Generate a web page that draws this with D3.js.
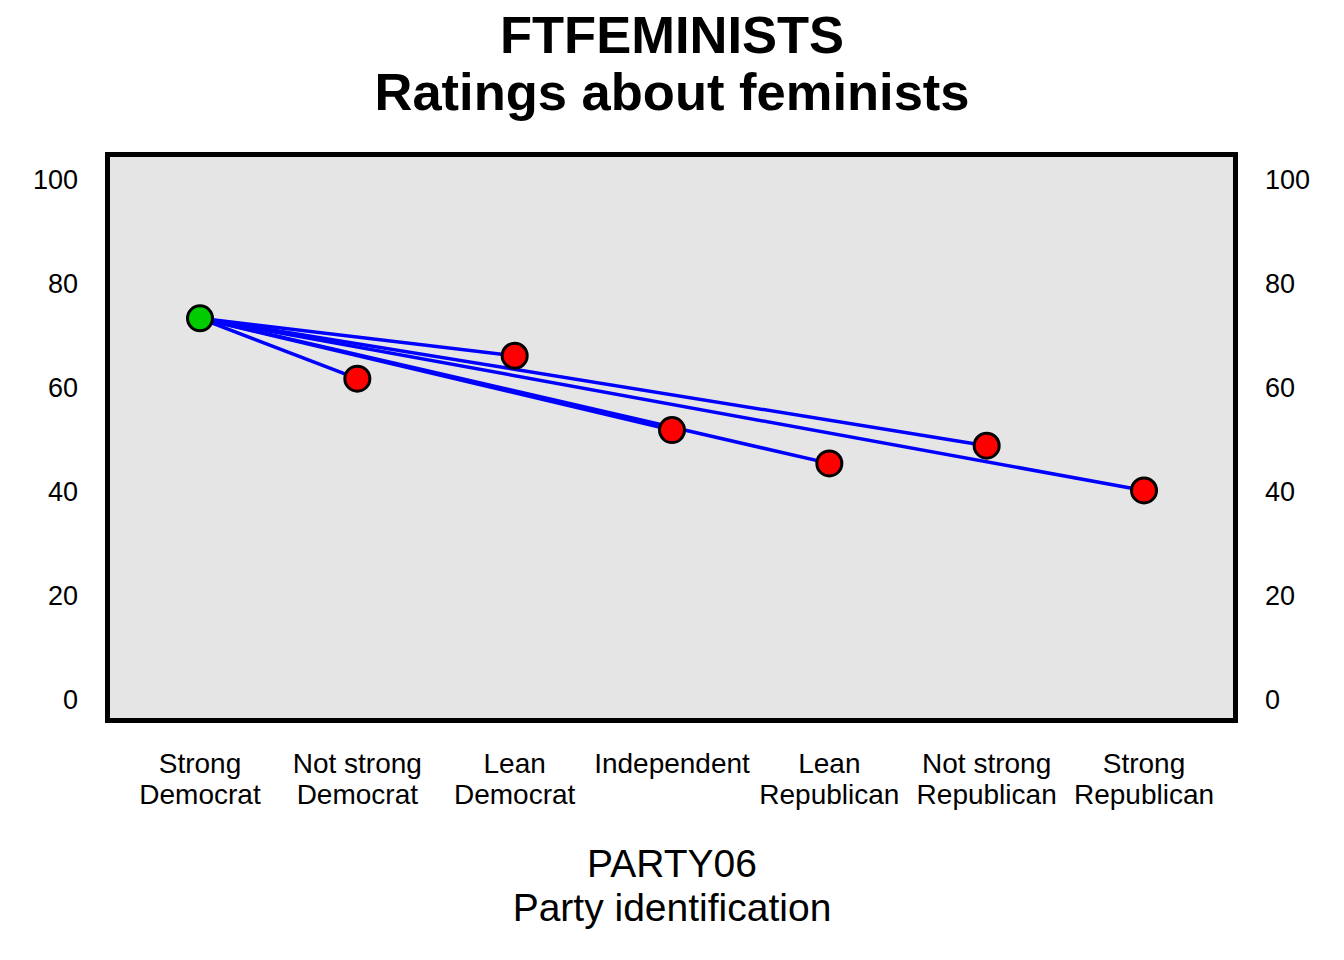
<!DOCTYPE html>
<html>
<head>
<meta charset="utf-8">
<script src="https://cdn.jsdelivr.net/npm/d3@7"></script>
<style>
  html, body { margin: 0; padding: 0; background: #ffffff; }
  svg { display: block; }
  text { font-family: "Liberation Sans", Arial, sans-serif; fill: #000; }
</style>
</head>
<body>
<svg id="chart" width="1344" height="960"></svg>
<script>
// ---- data ----
const categories = [
  ["Strong", "Democrat"],
  ["Not strong", "Democrat"],
  ["Lean", "Democrat"],
  ["Independent", ""],
  ["Lean", "Republican"],
  ["Not strong", "Republican"],
  ["Strong", "Republican"]
];
const catIndex = [1, 2, 3, 4, 5, 6, 7];
const values = [73.4, 61.8, 66.2, 51.9, 45.5, 48.9, 40.3];
const yTicks = [0, 20, 40, 60, 80, 100];
const titleLines = ["FTFEMINISTS", "Ratings about feminists"];
const xTitleLines = ["PARTY06", "Party identification"];
const referenceIndex = 0; // Strong Democrat is the reference group

// ---- layout ----
const svg = d3.select("#chart");
const frame = { left: 107.5, right: 1235.5, top: 154.5, bottom: 720.5 };

const x = d3.scaleLinear().domain([1, 7]).range([200, 1144]);
const y = d3.scaleLinear().domain([0, 100]).range([700, 180]);

// plot background
svg.append("rect")
  .attr("x", frame.left).attr("y", frame.top)
  .attr("width", frame.right - frame.left)
  .attr("height", frame.bottom - frame.top)
  .attr("fill", "#e5e5e5")
  .attr("stroke", "none");

// titles
svg.append("text")
  .attr("x", 672).attr("y", 53)
  .attr("text-anchor", "middle")
  .style("font-size", "52.5px").style("font-weight", "bold")
  .text(titleLines[0]);
svg.append("text")
  .attr("x", 672).attr("y", 110)
  .attr("text-anchor", "middle")
  .style("font-size", "52.5px").style("font-weight", "bold")
  .text(titleLines[1]);

// y axes (left and right) as text labels, no tick lines
const leftAxis = d3.axisLeft(y).tickValues(yTicks).tickSize(0).tickPadding(0);
const gL = svg.append("g").attr("transform", "translate(78,0)").call(leftAxis);
gL.select(".domain").remove();
gL.selectAll("text")
  .style("font-family", "'Liberation Sans', Arial, sans-serif")
  .style("font-size", "27px").attr("fill", "#000");

const rightAxis = d3.axisRight(y).tickValues(yTicks).tickSize(0).tickPadding(0);
const gR = svg.append("g").attr("transform", "translate(1265,0)").call(rightAxis);
gR.select(".domain").remove();
gR.selectAll("text")
  .style("font-family", "'Liberation Sans', Arial, sans-serif")
  .style("font-size", "27px").attr("fill", "#000");

// x category labels
const xl = svg.append("g");
catIndex.forEach((c, i) => {
  const t = xl.append("text")
    .attr("x", x(c)).attr("y", 773)
    .attr("text-anchor", "middle")
    .style("font-size", "28px");
  t.append("tspan").attr("x", x(c)).attr("y", 773).text(categories[i][0]);
  if (categories[i][1]) {
    t.append("tspan").attr("x", x(c)).attr("y", 804).text(categories[i][1]);
  }
});

// x axis title
svg.append("text")
  .attr("x", 672).attr("y", 877)
  .attr("text-anchor", "middle")
  .style("font-size", "39px")
  .text(xTitleLines[0]);
svg.append("text")
  .attr("x", 672).attr("y", 921)
  .attr("text-anchor", "middle")
  .style("font-size", "39px")
  .text(xTitleLines[1]);

// lines from reference point to each other point
const others = catIndex.map((c, i) => i).filter(i => i !== referenceIndex);
svg.append("g").selectAll("line")
  .data(others)
  .join("line")
  .attr("x1", x(catIndex[referenceIndex]))
  .attr("y1", y(values[referenceIndex]))
  .attr("x2", i => x(catIndex[i]))
  .attr("y2", i => y(values[i]))
  .attr("stroke", "#0000ff")
  .attr("stroke-width", 3.5);

// points
svg.append("g").selectAll("circle")
  .data(catIndex.map((c, i) => i))
  .join("circle")
  .attr("cx", i => x(catIndex[i]))
  .attr("cy", i => y(values[i]))
  .attr("r", 12.5)
  .attr("fill", i => i === referenceIndex ? "#00cc00" : "#ff0000")
  .attr("stroke", "#000")
  .attr("stroke-width", 3);

// frame border on top
svg.append("rect")
  .attr("x", frame.left).attr("y", frame.top)
  .attr("width", frame.right - frame.left)
  .attr("height", frame.bottom - frame.top)
  .attr("fill", "none")
  .attr("stroke", "#000")
  .attr("stroke-width", 5);
</script>
</body>
</html>
